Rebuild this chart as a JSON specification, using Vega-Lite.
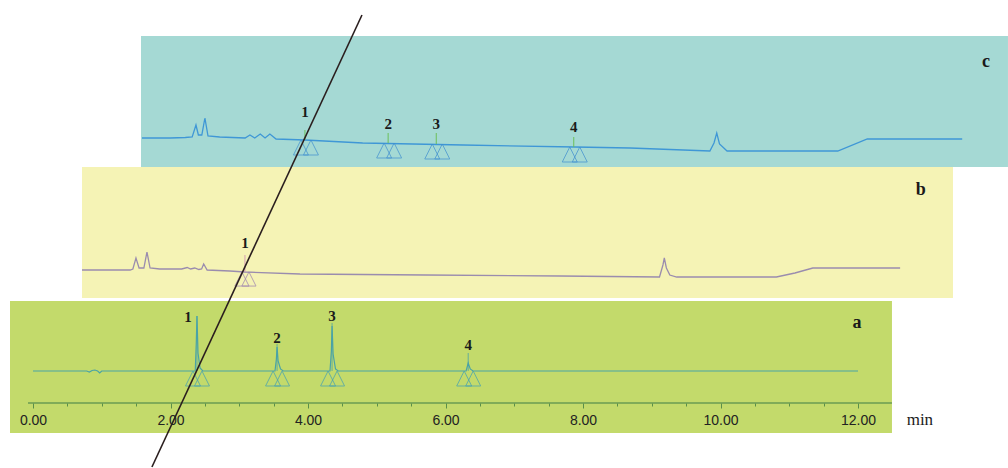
{
  "$schema": "https://vega.github.io/schema/vega-lite/v6.json",
  "width": 1008,
  "height": 468,
  "autosize": {"type": "none"},
  "padding": 0,
  "background": "white",
  "config": {"view": {"stroke": null}},
  "datasets": {
    "ta": [
      {"t": 0, "s": 0}, {"t": 0.78, "s": 0}, {"t": 0.82, "s": -1}, {"t": 0.86, "s": 0.5}, {"t": 0.9, "s": 1}, {"t": 0.94, "s": 0}, {"t": 0.97, "s": -2}, {"t": 1.0, "s": 0},
      {"t": 2.36, "s": 0}, {"t": 2.375, "s": 28}, {"t": 2.385, "s": 55}, {"t": 2.4, "s": 18}, {"t": 2.43, "s": 3}, {"t": 2.47, "s": 0},
      {"t": 3.52, "s": 0}, {"t": 3.54, "s": 12}, {"t": 3.55, "s": 24}, {"t": 3.565, "s": 10}, {"t": 3.6, "s": 2}, {"t": 3.64, "s": 0},
      {"t": 4.32, "s": 0}, {"t": 4.34, "s": 20}, {"t": 4.35, "s": 45}, {"t": 4.365, "s": 17}, {"t": 4.4, "s": 2}, {"t": 4.44, "s": 0},
      {"t": 6.3, "s": 0}, {"t": 6.33, "s": 8}, {"t": 6.36, "s": 2}, {"t": 6.4, "s": 0}, {"t": 12, "s": 0}
    ],
    "tb": [
      {"t": 0, "s": 0}, {"t": 0.7, "s": 0}, {"t": 0.74, "s": 1}, {"t": 0.785, "s": 12}, {"t": 0.83, "s": 2}, {"t": 0.9, "s": 2}, {"t": 0.945, "s": 18}, {"t": 0.99, "s": 2},
      {"t": 1.13, "s": 1}, {"t": 1.45, "s": 1}, {"t": 1.53, "s": 2.5}, {"t": 1.58, "s": 1}, {"t": 1.64, "s": 2}, {"t": 1.7, "s": 0.5}, {"t": 1.74, "s": 1}, {"t": 1.77, "s": 6}, {"t": 1.82, "s": 0},
      {"t": 2.15, "s": -1}, {"t": 2.37, "s": -2}, {"t": 3.17, "s": -4}, {"t": 5.0, "s": -5}, {"t": 6.95, "s": -6}, {"t": 8.4, "s": -7}, {"t": 8.45, "s": 5}, {"t": 8.47, "s": 12}, {"t": 8.5, "s": 2}, {"t": 8.55, "s": -5}, {"t": 8.65, "s": -7},
      {"t": 10.1, "s": -7}, {"t": 10.37, "s": -3}, {"t": 10.63, "s": 2}, {"t": 11.9, "s": 2}
    ],
    "tc": [
      {"t": 0, "s": 0}, {"t": 0.41, "s": 0}, {"t": 0.63, "s": 0.5}, {"t": 0.73, "s": 1}, {"t": 0.785, "s": 13}, {"t": 0.82, "s": 3}, {"t": 0.87, "s": 3}, {"t": 0.915, "s": 20}, {"t": 0.96, "s": 2},
      {"t": 1.13, "s": 1}, {"t": 1.5, "s": 0}, {"t": 1.57, "s": 3}, {"t": 1.64, "s": 0}, {"t": 1.72, "s": 4}, {"t": 1.79, "s": 0}, {"t": 1.86, "s": 4}, {"t": 1.95, "s": -1},
      {"t": 2.37, "s": -2}, {"t": 3.21, "s": -5}, {"t": 4.67, "s": -7}, {"t": 6.3, "s": -9}, {"t": 7.1, "s": -10}, {"t": 8.26, "s": -13}, {"t": 8.32, "s": -5}, {"t": 8.36, "s": 5}, {"t": 8.4, "s": -6}, {"t": 8.51, "s": -13},
      {"t": 10.12, "s": -13}, {"t": 10.55, "s": -1}, {"t": 11.93, "s": -1}
    ],
    "pa": [
      {"p": "1", "t": 2.385, "base": 0, "m": 55, "lt": 2.255, "ls": 54},
      {"p": "2", "t": 3.55, "base": 0, "m": 27, "lt": 3.55, "ls": 33},
      {"p": "3", "t": 4.35, "base": 0, "m": 48, "lt": 4.35, "ls": 55},
      {"p": "4", "t": 6.33, "base": 0, "m": 18, "lt": 6.33, "ls": 26}
    ],
    "pb": [
      {"p": "1", "t": 2.37, "base": -2, "m": 15, "lt": 2.37, "ls": 27}
    ],
    "pc": [
      {"p": "1", "t": 2.37, "base": -2, "m": 8, "lt": 2.37, "ls": 26},
      {"p": "2", "t": 3.58, "base": -5, "m": 5, "lt": 3.58, "ls": 14},
      {"p": "3", "t": 4.28, "base": -6, "m": 5, "lt": 4.28, "ls": 14},
      {"p": "4", "t": 6.28, "base": -9, "m": 1, "lt": 6.28, "ls": 11}
    ]
  },
  "encoding": {
    "x": {"type": "quantitative", "scale": {"domain": [-0.48, 14.1818], "nice": false, "zero": false},
          "axis": {"orient": "bottom", "offset": -65, "zindex": 1, "domain": false, "grid": false, "title": null,
                   "values": [0, 0.5, 1, 1.5, 2, 2.5, 3, 3.5, 4, 4.5, 5, 5.5, 6, 6.5, 7, 7.5, 8, 8.5, 9, 9.5, 10, 10.5, 11, 11.5, 12],
                   "tickSize": {"condition": {"test": "datum.value % 2 === 0", "value": 5}, "value": 3},
                   "tickColor": "#5b8f48", "tickWidth": 1,
                   "labelExpr": "datum.value % 2 === 0 ? format(datum.value, '.2f') : ''",
                   "labelOverlap": false, "labelFlush": false, "labelFont": "Liberation Sans", "labelFontSize": 14, "labelColor": "#222222", "labelPadding": 5}},
    "y": {"type": "quantitative", "scale": {"domain": [-97, 371], "nice": false, "zero": false}, "axis": null}
  },
  "layer": [
    {"data": {"values": [{}]}, "mark": {"type": "rect", "color": "#a5d9d4", "xOffset": 109, "x2Offset": 109, "yOffset": -233, "y2Offset": -233},
     "encoding": {"x": {"datum": -0.0145}, "x2": {"datum": 12.596}, "y": {"datum": 102}, "y2": {"datum": -29}}},
    {"data": {"values": [{}]}, "mark": {"type": "rect", "color": "#f5f3b5", "xOffset": 49, "x2Offset": 49, "yOffset": -101, "y2Offset": -101},
     "encoding": {"x": {"datum": 0}, "x2": {"datum": 12.669}, "y": {"datum": 103}, "y2": {"datum": -28}}},
    {"data": {"values": [{}]}, "mark": {"type": "rect", "color": "#c3da6b"},
     "encoding": {"x": {"datum": -0.3345}, "x2": {"datum": 12.494}, "y": {"datum": 70}, "y2": {"datum": -62}}},
    {"data": {"values": [{}]}, "mark": {"type": "rule", "color": "#6a9b52", "strokeWidth": 1.5},
     "encoding": {"x": {"datum": -0.073}, "x2": {"datum": 12.494}, "y": {"datum": -32}}},
    {"data": {"name": "ta"}, "mark": {"type": "line", "color": "#4aa3a6", "strokeWidth": 1.2},
     "encoding": {"x": {"field": "t"}, "y": {"field": "s"}}},
    {"data": {"name": "pa"}, "mark": {"type": "rule", "color": "#4aa3a6", "strokeWidth": 0.8},
     "encoding": {"x": {"field": "t"}, "y": {"field": "base"}, "y2": {"field": "m"}}},
    {"data": {"name": "pa"}, "mark": {"type": "point", "shape": "M0,-1L-1,1L1,1Z", "filled": false, "size": 225, "strokeWidth": 1, "color": "#3f9fb6", "xOffset": -4, "yOffset": 7.5},
     "encoding": {"x": {"field": "t"}, "y": {"field": "base"}}},
    {"data": {"name": "pa"}, "mark": {"type": "point", "shape": "M0,-1L-1,1L1,1Z", "filled": false, "size": 225, "strokeWidth": 1, "color": "#3f9fb6", "xOffset": 5, "yOffset": 7.5},
     "encoding": {"x": {"field": "t"}, "y": {"field": "base"}}},
    {"data": {"name": "pa"}, "mark": {"type": "text", "font": "Liberation Serif", "fontSize": 15, "fontWeight": "bold", "color": "#1a1a1a"},
     "encoding": {"x": {"field": "lt"}, "y": {"field": "ls"}, "text": {"field": "p"}}},

    {"data": {"name": "tb"}, "mark": {"type": "line", "color": "#9a8cae", "strokeWidth": 1.3, "xOffset": 49, "yOffset": -101},
     "encoding": {"x": {"field": "t"}, "y": {"field": "s"}}},
    {"data": {"name": "pb"}, "mark": {"type": "rule", "color": "#d49db4", "strokeWidth": 1, "xOffset": 49, "yOffset": -101, "y2Offset": -101},
     "encoding": {"x": {"field": "t"}, "y": {"field": "base"}, "y2": {"field": "m"}}},
    {"data": {"name": "pb"}, "mark": {"type": "point", "shape": "M0,-1L-1,1L1,1Z", "filled": false, "size": 200, "strokeWidth": 1, "color": "#9a7fb0", "xOffset": 46, "yOffset": -94},
     "encoding": {"x": {"field": "t"}, "y": {"field": "base"}}},
    {"data": {"name": "pb"}, "mark": {"type": "point", "shape": "M0,-1L-1,1L1,1Z", "filled": false, "size": 200, "strokeWidth": 1, "color": "#9a7fb0", "xOffset": 53, "yOffset": -94},
     "encoding": {"x": {"field": "t"}, "y": {"field": "base"}}},
    {"data": {"name": "pb"}, "mark": {"type": "text", "font": "Liberation Serif", "fontSize": 15, "fontWeight": "bold", "color": "#1a1a1a", "xOffset": 49, "yOffset": -101},
     "encoding": {"x": {"field": "lt"}, "y": {"field": "ls"}, "text": {"field": "p"}}},

    {"data": {"name": "tc"}, "mark": {"type": "line", "color": "#3f97d6", "strokeWidth": 1.3, "xOffset": 109, "yOffset": -233},
     "encoding": {"x": {"field": "t"}, "y": {"field": "s"}}},
    {"data": {"name": "pc"}, "mark": {"type": "rule", "color": "#6cbf5a", "strokeWidth": 1, "xOffset": 109, "yOffset": -233, "y2Offset": -233},
     "encoding": {"x": {"field": "t"}, "y": {"field": "base"}, "y2": {"field": "m"}}},
    {"data": {"name": "pc"}, "mark": {"type": "point", "shape": "M0,-1L-1,1L1,1Z", "filled": false, "size": 225, "strokeWidth": 1, "color": "#3f8fd0", "xOffset": 105, "yOffset": -225.5},
     "encoding": {"x": {"field": "t"}, "y": {"field": "base"}}},
    {"data": {"name": "pc"}, "mark": {"type": "point", "shape": "M0,-1L-1,1L1,1Z", "filled": false, "size": 225, "strokeWidth": 1, "color": "#3f8fd0", "xOffset": 115, "yOffset": -225.5},
     "encoding": {"x": {"field": "t"}, "y": {"field": "base"}}},
    {"data": {"name": "pc"}, "mark": {"type": "text", "font": "Liberation Serif", "fontSize": 15, "fontWeight": "bold", "color": "#1a1a1a", "xOffset": 109, "yOffset": -233},
     "encoding": {"x": {"field": "lt"}, "y": {"field": "ls"}, "text": {"field": "p"}}},

    {"data": {"values": [{}]}, "mark": {"type": "text", "text": "a", "font": "Liberation Serif", "fontSize": 18, "fontWeight": "bold", "color": "#1a1a1a"},
     "encoding": {"x": {"datum": 11.985}, "y": {"datum": 48}}},
    {"data": {"values": [{}]}, "mark": {"type": "text", "text": "b", "font": "Liberation Serif", "fontSize": 18, "fontWeight": "bold", "color": "#1a1a1a", "xOffset": 49, "yOffset": -101},
     "encoding": {"x": {"datum": 12.2}, "y": {"datum": 80}}},
    {"data": {"values": [{}]}, "mark": {"type": "text", "text": "c", "font": "Liberation Serif", "fontSize": 18, "fontWeight": "bold", "color": "#1a1a1a", "xOffset": 109, "yOffset": -233},
     "encoding": {"x": {"datum": 12.276}, "y": {"datum": 76}}},
    {"data": {"values": [{}]}, "mark": {"type": "text", "text": "min", "font": "Liberation Serif", "fontSize": 17, "color": "#1a1a1a"},
     "encoding": {"x": {"datum": 12.9}, "y": {"datum": -49}}},
    {"data": {"values": [{}]}, "mark": {"type": "rule", "color": "#2a1e1e", "strokeWidth": 1.6},
     "encoding": {"x": {"datum": 1.73}, "x2": {"datum": 4.785}, "y": {"datum": -96}, "y2": {"datum": 356}}}
  ]
}
